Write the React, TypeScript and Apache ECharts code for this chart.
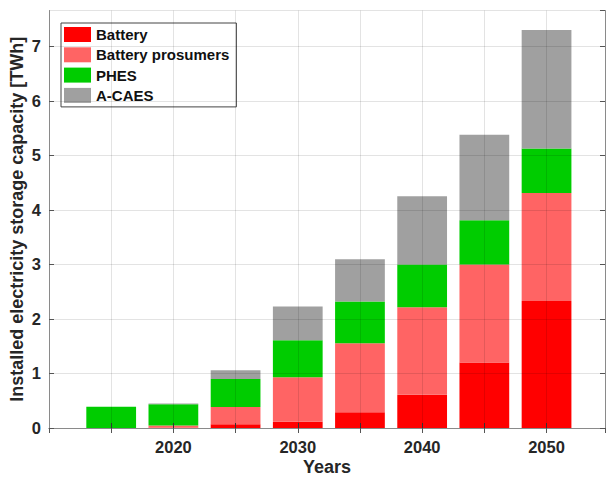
import React, { useEffect, useRef } from "react";
import * as echarts from "echarts";

const years = ["2015", "2020", "2025", "2030", "2035", "2040", "2045", "2050"];
const battery = [0, 0.005, 0.07, 0.115, 0.29, 0.61, 1.2, 2.33];
const batteryProsumers = [0, 0.04, 0.315, 0.815, 1.266, 1.606, 1.8, 1.98];
const phes = [0.39, 0.39, 0.515, 0.68, 0.764, 0.784, 0.81, 0.82];
const acaes = [0, 0.015, 0.16, 0.62, 0.775, 1.25, 1.57, 2.17];

const seriesNames = ["Battery", "Battery prosumers", "PHES", "A-CAES"];
const seriesColors = ["#ff0000", "#ff6464", "#00cc00", "#a0a0a0"];
const xTickLabels = ["2020", "2030", "2040", "2050"];

const FONT = "'Liberation Sans', Arial, Helvetica, sans-serif";

export default function App() {
  const ref = useRef<HTMLDivElement>(null);
  useEffect(() => {
    if (!ref.current) return;
    const chart = echarts.init(ref.current, undefined, { renderer: "svg" });
    const allData = [battery, batteryProsumers, phes, acaes];
    const axisLineStyle = { color: "#8a8a8a", width: 1 };
    const gridLine = { show: true, lineStyle: { color: "rgba(0,0,0,0.11)", width: 1 } };
    const top = 10.5;
    const bottom = 49;
    const xMin = 2010;
    const xMax = 2054.7;
    const gLeft = 49;
    const gRight = 1;
    const plotW = 606 - gLeft - gRight;
    const pxPerYear = plotW / (xMax - xMin);
    const band = 5 * pxPerYear;
    const barLeft = gLeft + (Number(years[0]) - xMin) * pxPerYear - band / 2;
    const barRight = 606 - (barLeft + band * years.length);
    chart.setOption({
      animation: false,
      textStyle: { fontFamily: FONT },
      grid: [
        { left: gLeft, right: gRight, top, bottom, containLabel: false, outerBoundsMode: "none" },
        { left: barLeft, right: barRight, top, bottom, containLabel: false, outerBoundsMode: "none" },
      ],
      legend: {
        orient: "vertical",
        left: 61,
        top: 23,
        padding: [4, 7, 4, 3],
        itemWidth: 27,
        itemHeight: 15,
        itemGap: 5.3,
        icon: "rect",
        backgroundColor: "#ffffff",
        borderColor: "#444444",
        borderWidth: 1,
        textStyle: { fontFamily: FONT, fontSize: 15, fontWeight: "bold", color: "#111111" },
        data: seriesNames,
      },
      xAxis: [
        {
          type: "value",
          gridIndex: 0,
          position: "bottom",
          min: xMin,
          max: xMax,
          interval: 5,
          z: 10,
          axisLine: { show: true, lineStyle: axisLineStyle },
          axisTick: { show: true, inside: true, length: 5, lineStyle: { color: "#333" } },
          splitLine: gridLine,
          axisLabel: {
            margin: 10,
            fontSize: 16.5,
            fontWeight: "bold",
            color: "#262626",
            fontFamily: FONT,
            showMinLabel: false,
            showMaxLabel: false,
            formatter: (v: number) => (xTickLabels.includes(String(v)) ? String(v) : ""),
          },
          name: "Years",
          nameLocation: "middle",
          nameGap: 30,
          nameMoveOverlap: false,
          nameTextStyle: { fontSize: 18, lineHeight: 18, fontWeight: "bold", color: "#262626", fontFamily: FONT },
        },
        {
          type: "value",
          gridIndex: 0,
          position: "top",
          min: xMin,
          max: xMax,
          interval: 5,
          z: 10,
          axisLine: { show: true, lineStyle: axisLineStyle },
          axisTick: { show: true, inside: true, length: 5, lineStyle: { color: "#555" } },
          splitLine: { show: false },
          axisLabel: { show: false },
        },
        {
          type: "category",
          gridIndex: 1,
          data: years,
          show: false,
          boundaryGap: true,
        },
      ],
      yAxis: [
        {
          type: "value",
          gridIndex: 0,
          position: "left",
          min: 0,
          max: 7.66,
          interval: 1,
          z: 10,
          axisLine: { show: true, lineStyle: axisLineStyle },
          axisTick: { show: true, inside: true, length: 5, lineStyle: { color: "#555" } },
          splitLine: gridLine,
          axisLabel: {
            margin: 8,
            fontSize: 16.5,
            fontWeight: "bold",
            color: "#262626",
            fontFamily: FONT,
            showMaxLabel: false,
          },
          name: "Installed electricity storage capacity [TWh]",
          nameLocation: "middle",
          nameGap: 23,
          nameMoveOverlap: false,
          nameTextStyle: { fontSize: 18, lineHeight: 18, fontWeight: "bold", color: "#262626", fontFamily: FONT },
        },
        {
          type: "value",
          gridIndex: 0,
          position: "right",
          min: 0,
          max: 7.66,
          interval: 1,
          z: 10,
          axisLine: { show: true, lineStyle: axisLineStyle },
          axisTick: { show: true, inside: true, length: 5, lineStyle: { color: "#555" } },
          splitLine: { show: false },
          axisLabel: { show: false },
        },
        {
          type: "value",
          gridIndex: 1,
          min: 0,
          max: 7.66,
          show: false,
          splitLine: { show: false },
        },
      ],
      series: seriesNames.map((name, si) => ({
        name,
        type: "bar",
        stack: "total",
        xAxisIndex: 2,
        yAxisIndex: 2,
        barWidth: "80%",
        itemStyle: { color: seriesColors[si] },
        data: allData[si],
      })),
    });
    return () => chart.dispose();
  }, []);
  return (
    <div
      ref={ref}
      style={{ position: "fixed", left: 0, top: 0, width: 606, height: 477, background: "#fff" }}
    />
  );
}
